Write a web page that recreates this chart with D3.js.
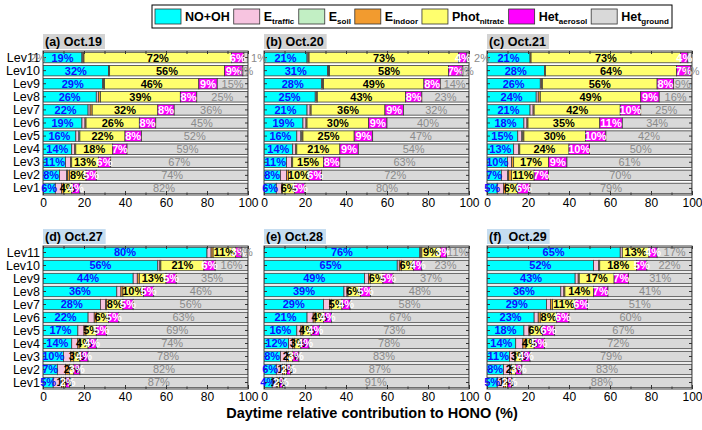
<!DOCTYPE html>
<html>
<head>
<meta charset="utf-8">
<script src="https://cdn.jsdelivr.net/npm/d3@7"></script>
<style>
  body { margin: 0; background: #fff; }
  svg { display: block; font-family: Arial, "Liberation Sans", sans-serif; }
</style>
</head>
<body>
<svg id="chart" width="702" height="430"></svg>
<script>
// levels, bottom to top
const levels = ["Lev1", "Lev2", "Lev3", "Lev4", "Lev5", "Lev6", "Lev7", "Lev8", "Lev9", "Lev10", "Lev11"];
const seriesNames = ["NO+OH", "E_traffic", "E_soil", "E_indoor", "Phot_nitrate", "Het_aerosol", "Het_ground"];
const seriesColors = ["#00ffff", "#f7c4e0", "#c2efc4", "#f29b2f", "#ffff6e", "#ff00ff", "#d9d9d9"];
const labelColors = ["#1010ff", null, null, null, "#000000", "#ffffff", "#8a8a8a"];
const panelTitles = ["(a) Oct.19", "(b) Oct.20", "(c) Oct.21", "(d) Oct.27", "(e) Oct.28", "(f)  Oct.29"];
const xTicks = [0, 20, 40, 60, 80, 100];

// rows = Lev1..Lev11, columns = seriesNames order (%)
const oct19 = [
  [6, 3, 0, 1, 4, 4, 82],
  [8, 3.5, 0.5, 1, 8, 5, 74],
  [11, 2.5, 0, 0.5, 13, 6, 67],
  [14, 1.5, 0, 0.5, 18, 7, 59],
  [16, 1.5, 0.5, 0, 22, 8, 52],
  [19, 1.5, 0, 0.5, 26, 8, 45],
  [22, 1, 0, 1, 32, 8, 36],
  [26, 1, 0, 1, 39, 8, 25],
  [29, 0.5, 0, 0.5, 46, 9, 15],
  [32, 0, 0, 0.5, 56, 9, 2.5],
  [19, 0.5, 0, 0.5, 72, 6, 2]
];
const oct20 = [
  [6, 2.5, 0, 0.5, 6, 5, 80],
  [8, 3, 0, 1, 10, 6, 72],
  [11, 2.5, 0, 0.5, 15, 8, 63],
  [14, 1.5, 0, 0.5, 21, 9, 54],
  [16, 2, 0.5, 0.5, 25, 9, 47],
  [19, 1.5, 0, 0.5, 30, 9, 40],
  [21, 1.5, 0, 0.5, 36, 9, 32],
  [25, 0.5, 0, 0.5, 43, 8, 23],
  [28, 0.5, 0, 0.5, 49, 8, 14],
  [31, 0.5, 0, 0.5, 58, 7, 3],
  [21, 0.5, 0, 0.5, 73, 4, 1]
];
const oct21 = [
  [5, 3, 0, 1, 6, 6, 79],
  [7, 3, 0.5, 1.5, 11, 7, 70],
  [10, 2, 0, 1, 17, 9, 61],
  [13, 2.5, 0, 0.5, 24, 10, 50],
  [15, 2, 0.5, 0.5, 30, 10, 42],
  [18, 1.5, 0, 0.5, 35, 11, 34],
  [21, 1.5, 0, 0.5, 42, 10, 25],
  [24, 1, 0, 1, 49, 9, 16],
  [26, 0.5, 0, 0.5, 56, 8, 9],
  [28, 0, 0, 0.5, 64, 7, 0.5],
  [21, 0, 0, 0.5, 73, 3.5, 2]
];
const oct27 = [
  [5, 4, 0, 1, 1, 2, 87],
  [7, 4, 0, 2, 2, 3, 82],
  [10, 3.5, 0, 1.5, 3, 4, 78],
  [14, 3, 0, 1, 4, 4, 74],
  [17, 3, 0, 1, 5, 5, 69],
  [22, 3, 0, 1, 6, 5, 63],
  [28, 2.5, 0, 0.5, 8, 5, 56],
  [36, 2, 0, 1, 10, 5, 46],
  [44, 2, 0, 1, 13, 5, 35],
  [56, 1, 0, 0.5, 21, 5.5, 16],
  [80, 2, 0, 1, 11, 3, 3]
];
const oct28 = [
  [4, 2, 0, 0.5, 1, 1.5, 91],
  [6, 3, 0, 1, 1, 2, 87],
  [8, 3, 0, 1, 2, 3, 83],
  [12, 2, 0, 1, 3, 4, 78],
  [16, 2, 0, 1, 4, 4, 73],
  [21, 3, 0, 1, 4, 4, 67],
  [29, 3, 0, 1, 5, 4, 58],
  [39, 1.5, 0, 0.5, 6, 5, 48],
  [49, 2, 0, 1, 6, 5, 37],
  [65, 1, 0, 1, 6, 4, 23],
  [76, 0.5, 0, 0.5, 9, 3, 11]
];
const oct29 = [
  [5, 3, 0, 1, 1, 2, 88],
  [8, 3, 0, 1, 2, 3, 83],
  [11, 2.5, 0, 0.5, 3, 4, 79],
  [14, 3.5, 0, 1.5, 4, 5, 72],
  [18, 2.5, 0, 0.5, 6, 6, 67],
  [23, 2, 0, 1, 8, 6, 60],
  [29, 2, 0, 1, 11, 6, 51],
  [36, 1.5, 0, 0.5, 14, 7, 41],
  [43, 1.5, 0, 0.5, 17, 7, 31],
  [52, 2.5, 0, 0.5, 18, 5, 22],
  [65, 1, 0, 0, 13, 4, 17]
];
const panelData = [oct19, oct20, oct21, oct27, oct28, oct29];

const svg = d3.select("#chart");
const colX = [43, 264, 487], plotW = 205;
const rows = [{ top: 51, bottom: 195, titleFill: "#d3d3d3" }, { top: 246, bottom: 389, titleFill: "#c6ddf0" }];

// text with "_" turned into a subscript
function subText(sel, name, subSize, dy) {
  const parts = name.split("_");
  sel.append("tspan").text(parts[0]);
  if (parts[1]) sel.append("tspan").attr("font-size", subSize).attr("dy", dy).text(parts[1]);
}

panelData.forEach((data, p) => {
  const col = p % 3, row = rows[Math.floor(p / 3)];
  const x0 = colX[col];
  const x = d3.scaleLinear().domain([0, 100]).range([x0, x0 + plotW]);
  const y = d3.scaleBand().domain(levels.slice().reverse())
    .range([row.top, row.bottom]).paddingInner(0.2).paddingOuter(0.1);

  const table = data.map((v, i) => {
    const o = { lev: levels[i] };
    v.forEach((d, k) => o[k] = d);
    return o;
  });
  const stacked = d3.stack().keys(d3.range(seriesNames.length))(table);

  const g = svg.append("g").attr("class", "panel");
  const clipId = "clip" + p;
  g.append("clipPath").attr("id", clipId).append("rect")
    .attr("x", x0).attr("y", row.top).attr("width", plotW).attr("height", row.bottom - row.top);

  const bars = g.append("g").attr("clip-path", "url(#" + clipId + ")");
  stacked.forEach((s, k) => {
    bars.selectAll(null).data(s).enter().append("rect")
      .attr("x", d => x(d[0]))
      .attr("y", d => y(d.data.lev))
      .attr("width", d => Math.max(0, x(d[1]) - x(d[0])))
      .attr("height", y.bandwidth())
      .attr("fill", seriesColors[k])
      .attr("stroke", "#3c3c3c")
      .attr("stroke-width", 0.8);
  });

  // frame
  g.append("rect").attr("x", x0).attr("y", row.top).attr("width", plotW)
    .attr("height", row.bottom - row.top).attr("fill", "none").attr("stroke", "#444").attr("stroke-width", 1);

  // axes with inward ticks
  const bottomAx = g.append("g").attr("transform", "translate(0," + row.bottom + ")")
    .call(d3.axisBottom(x).tickValues(xTicks).tickSizeInner(-4).tickSizeOuter(0).tickPadding(3));
  bottomAx.append("g").call(d3.axisBottom(x).tickValues(d3.range(10, 100, 20)).tickSize(-2.5).tickFormat(""));
  const topAx = g.append("g").attr("transform", "translate(0," + row.top + ")")
    .call(d3.axisTop(x).tickValues(d3.range(0, 101, 10)).tickSize(-3).tickFormat(""));
  const leftAx = g.append("g").attr("transform", "translate(" + x0 + ",0)")
    .call(d3.axisLeft(y).tickSizeInner(-3).tickSizeOuter(0).tickPadding(3).tickFormat(col === 0 ? null : ""));
  const rightAx = g.append("g").attr("transform", "translate(" + (x0 + plotW) + ",0)")
    .call(d3.axisRight(y).tickSize(-3).tickFormat(""));
  [bottomAx, topAx, leftAx, rightAx].forEach(a => {
    a.selectAll(".domain").remove();
    a.selectAll("line").attr("stroke", "#333");
  });
  bottomAx.selectAll("text").attr("font-size", 12).attr("fill", "#000")
    .attr("font-family", "Arial, 'Liberation Sans', sans-serif");
  leftAx.selectAll("text").attr("font-size", 12.5).attr("fill", "#000")
    .attr("font-family", "Arial, 'Liberation Sans', sans-serif");

  // value labels
  stacked.forEach((s, k) => {
    if (!labelColors[k]) return;
    g.selectAll(null).data(s).enter().append("text")
      .attr("x", d => {
        const v = d[1] - d[0];
        if (k === 6 && d.data.lev === "Lev11" && v < 2.5) return x0 - 5;
        return x((d[0] + d[1]) / 2);
      })
      .attr("y", d => y(d.data.lev) + y.bandwidth() / 2)
      .attr("dy", "0.36em")
      .attr("text-anchor", "middle")
      .attr("font-size", 11)
      .attr("font-weight", k === 6 ? "normal" : "bold")
      .attr("fill", labelColors[k])
      .text(d => Math.round(d[1] - d[0]) + "%");
  });

  // panel title
  const tg = g.append("g");
  const tt = tg.append("text").attr("x", x0 + 2).attr("y", row.top - 5)
    .attr("font-size", 12.5).attr("font-weight", "bold").attr("xml:space", "preserve").text(panelTitles[p]);
  const tw = tt.node().getComputedTextLength();
  tg.insert("rect", "text").attr("x", x0).attr("y", row.top - 17).attr("width", tw + 5).attr("height", 15)
    .attr("fill", row.titleFill);
});

// legend
const legend = svg.append("g");
legend.append("rect").attr("x", 152).attr("y", 5).attr("width", 520).attr("height", 23)
  .attr("fill", "#fff").attr("stroke", "#000").attr("stroke-width", 1);
const items = [];
seriesNames.forEach((name, k) => {
  const it = legend.append("g");
  it.append("rect").attr("x", 0).attr("y", 9).attr("width", 26).attr("height", 15)
    .attr("fill", seriesColors[k]).attr("stroke", "#333").attr("stroke-width", 0.8);
  const t = it.append("text").attr("x", 30).attr("y", 21).attr("font-size", 12.5).attr("font-weight", "bold");
  subText(t, name, 8, 3);
  const w = 30 + t.node().getBBox().width;
  items.push({ it, w });
});
const totalW = d3.sum(items, d => d.w);
const gap = Math.max(2, (520 - 6 - totalW) / (items.length - 1));
let lx = 155;
items.forEach(d => {
  d.it.attr("transform", "translate(" + lx + ",0)");
  lx += d.w + gap;
});

// x axis title
svg.append("text").attr("x", 372).attr("y", 418).attr("text-anchor", "middle")
  .attr("font-size", 14.5).attr("font-weight", "bold")
  .text("Daytime relative contribution to HONO (%)");
</script>
</body>
</html>
